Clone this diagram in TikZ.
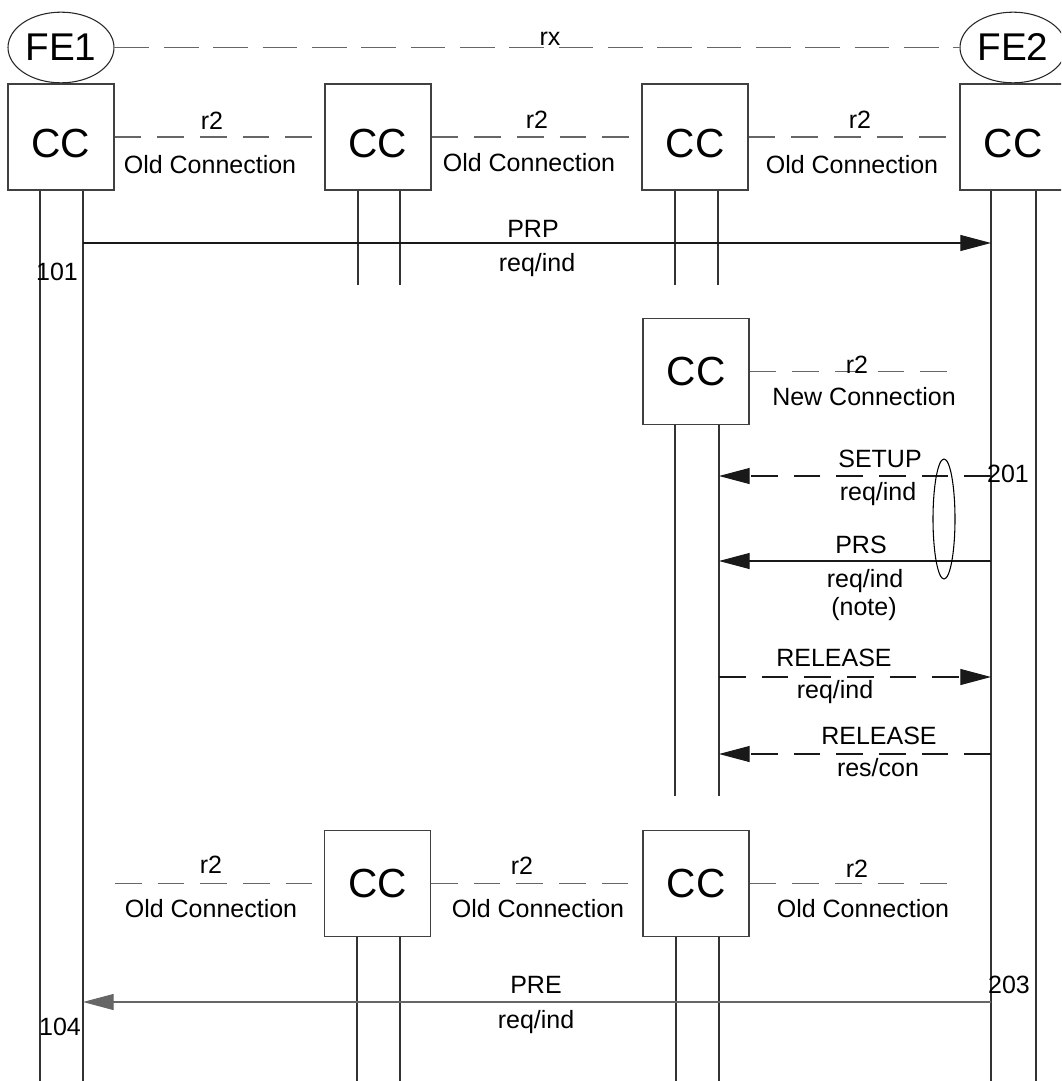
\documentclass[tikz,border=0pt]{standalone}
\usepackage{fontspec}
\setmainfont{Liberation Sans}
\usetikzlibrary{arrows.meta,shapes.geometric}
\begin{document}
\begin{tikzpicture}[x=0.75pt,y=-0.75pt,
  ccbox/.style={draw=black!75,line width=0.8pt,minimum size=79.5pt,inner sep=0pt,font=\fontsize{30.5}{36}\selectfont},
  cctop/.style={ccbox,text height=30.5pt},
  fe/.style={draw=black!85,line width=0.8pt,ellipse,minimum width=79.5pt,minimum height=53pt,inner sep=0pt,font=\fontsize{29}{34}\selectfont},
  lbl/.style={font=\fontsize{18.75}{22}\selectfont,anchor=base,inner sep=0pt},
  life/.style={draw=black!80,line width=0.8pt},
  link/.style={draw=black!60,line width=0.8pt,dash pattern=on 20pt off 12pt},
  msg/.style={draw=black!90,line width=0.8pt,-{Triangle[length=23pt,width=12pt]}},
  dmsg/.style={msg,dash pattern=on 20pt off 12pt},
  notel/.style={draw=black,line width=0.8pt,ellipse,minimum width=16.5pt,minimum height=90pt,inner sep=0pt},
]
\useasboundingbox (0,0) rectangle (1061,1081);
\clip (0,0) rectangle (1061,1081);
\fill[white] (0,0) rectangle (1061,1081);

% functional entities
\node[fe] (fe1) at (61,47.5) {FE1};
\node[fe] (fe2) at (1013,47.5) {FE2};
\draw[link,dash pattern=on 26pt off 11pt] (fe1.east) -- (fe2.west);
\node[lbl] (rx) at (550,46) {rx};

% top row of CC boxes
\node[cctop] (b1) at (61,137) {CC};
\node[cctop] (b2) at (378,137) {CC};
\node[cctop] (b3) at (695,137) {CC};
\node[cctop] (b4) at (1013,137) {CC};
\draw[link] (b1.east) -- (b2.west);
\draw[link] (b2.east) -- (b3.west);
\draw[link] (b3.east) -- (b4.west);
\node[lbl] (t1r) at (212,129) {r2};
\node[lbl] (t1o) at (210,173) {Old Connection};
\node[lbl] (t2r) at (537,128) {r2};
\node[lbl] (t2o) at (529,171) {Old Connection};
\node[lbl] (t3r) at (860,128) {r2};
\node[lbl] (t3o) at (852,173) {Old Connection};

% lifelines of top row
\coordinate (l1a) at (40,1081);
\coordinate (l1b) at (83,1081);
\coordinate (l2a) at (358,285);
\coordinate (l2b) at (400,285);
\coordinate (l3a) at (675,285);
\coordinate (l3b) at (718,285);
\coordinate (l4a) at (991,1081);
\coordinate (l4b) at (1036,1081);
\draw[life] (b1.south -| l1a) -- (l1a);
\draw[life] (b1.south -| l1b) -- (l1b);
\draw[life] (b2.south -| l2a) -- (l2a);
\draw[life] (b2.south -| l2b) -- (l2b);
\draw[life] (b3.south -| l3a) -- (l3a);
\draw[life] (b3.south -| l3b) -- (l3b);
\draw[life] (b4.south -| l4a) -- (l4a);
\draw[life] (b4.south -| l4b) -- (l4b);

% PRP
\coordinate (prp-s) at (83,243);
\coordinate (prp-e) at (991,243);
\draw[msg] (prp-s) -- (prp-e);
\node[lbl] (prp) at (533,237) {PRP};
\node[lbl] (prpri) at (537,271) {req/ind};
\node[lbl] (n101) at (57,280) {101};

% middle CC (new connection)
\node[ccbox] (mb) at (696,371.5) {CC};
\coordinate (mb-end) at (962,371.5);
\draw[link] (mb.east) -- (mb-end);
\node[lbl] (mr2) at (857,373) {r2};
\node[lbl] (mnew) at (864,405) {New Connection};
\coordinate (ml-a) at (675,796);
\coordinate (ml-b) at (719,796);
\draw[life] (mb.south -| ml-a) -- (ml-a);
\draw[life] (mb.south -| ml-b) -- (ml-b);

% SETUP
\coordinate (su-s) at (991,476);
\coordinate (su-e) at (719,476);
\draw[dmsg] (su-s) -- (su-e);
\node[lbl] (setup) at (880,467) {SETUP};
\node[lbl] (suri) at (878,500) {req/ind};
\node[lbl] (n201) at (1008,482) {201};

% PRS
\coordinate (prs-s) at (991,561);
\coordinate (prs-e) at (719,561);
\draw[msg] (prs-s) -- (prs-e);
\node[lbl] (prs) at (861,553) {PRS};
\node[lbl] (prsri) at (865,587) {req/ind};
\node[lbl] (prsnote) at (864,615) {(note)};

% grouping ellipse
\node[notel] (grp) at (944,519) {};

% RELEASE req/ind
\coordinate (rl1-s) at (719,677);
\coordinate (rl1-e) at (991,677);
\draw[dmsg] (rl1-s) -- (rl1-e);
\node[lbl] (rel1) at (834,666) {RELEASE};
\node[lbl] (rel1ri) at (835,698) {req/ind};

% RELEASE res/con
\coordinate (rl2-s) at (991,754);
\coordinate (rl2-e) at (719,754);
\draw[dmsg] (rl2-s) -- (rl2-e);
\node[lbl] (rel2) at (879,744) {RELEASE};
\node[lbl] (rel2rc) at (878,776) {res/con};

% bottom row
\node[ccbox] (c2) at (377.5,883.5) {CC};
\node[ccbox] (c3) at (696,883.5) {CC};
\coordinate (bl-s) at (115,883.5);
\coordinate (bl-e) at (961,883.5);
\draw[link] (bl-s) -- (c2.west);
\draw[link] (c2.east) -- (c3.west);
\draw[link] (c3.east) -- (bl-e);
\node[lbl] (u1r) at (211,873) {r2};
\node[lbl] (u1o) at (211,917) {Old Connection};
\node[lbl] (u2r) at (522,874) {r2};
\node[lbl] (u2o) at (538,917) {Old Connection};
\node[lbl] (u3r) at (857,877) {r2};
\node[lbl] (u3o) at (863,917) {Old Connection};
\coordinate (c2a) at (357,1081);
\coordinate (c2b) at (400,1081);
\coordinate (c3a) at (676,1081);
\coordinate (c3b) at (719,1081);
\draw[life] (c2.south -| c2a) -- (c2a);
\draw[life] (c2.south -| c2b) -- (c2b);
\draw[life] (c3.south -| c3a) -- (c3a);
\draw[life] (c3.south -| c3b) -- (c3b);

% PRE
\coordinate (pre-s) at (991,1002);
\coordinate (pre-e) at (83,1002);
\draw[msg,draw=black!60] (pre-s) -- (pre-e);
\node[lbl] (pre) at (536,993) {PRE};
\node[lbl] (preri) at (536,1028) {req/ind};
\node[lbl] (n203) at (1009,993) {203};
\node[lbl] (n104) at (60,1035) {104};
\end{tikzpicture}
\end{document}
